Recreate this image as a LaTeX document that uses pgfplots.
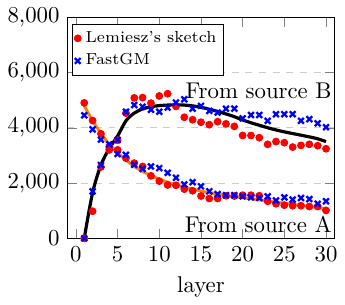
\documentclass[border=0pt]{standalone}
\usepackage{pgfplots}
\pgfplotsset{compat=1.18}
\begin{document}
\begin{tikzpicture}
\begin{axis}[
  scale only axis,
  width=117pt, height=97pt,
  xmin=-1, xmax=31,
  ymin=0, ymax=8000,
  xtick={0,5,...,30},
  ytick={0,2000,4000,6000,8000},
  scaled y ticks=false,
  ymajorgrids,
  major grid style={dashed, gray!40},
  xlabel={layer},
  legend style={at={(0.015,0.97)}, anchor=north west, font=\scriptsize, inner sep=1pt, row sep=-0.5pt},
  legend cell align=left,
]
\addplot[orange, line width=1.3pt, smooth, forget plot] coordinates {
(1,4800)(2,4250)(3,3800)(4,3400)(5,3100)(6,2830)(7,2600)(8,2420)(9,2270)(10,2140)
(11,2030)(12,1930)(13,1850)(14,1780)(15,1710)(16,1650)(17,1600)(18,1550)(19,1510)(20,1470)
(21,1430)(22,1390)(23,1350)(24,1310)(25,1270)(26,1230)(27,1190)(28,1150)(29,1110)(30,1070)};
\addplot[black, line width=1.4pt, smooth, forget plot] coordinates {
(1,0)(2,1650)(3,2650)(4,3250)(5,3700)(6,4250)(7,4530)(8,4680)(9,4760)(10,4800)
(11,4820)(12,4830)(13,4820)(14,4790)(15,4740)(16,4670)(17,4590)(18,4500)(19,4400)(20,4280)
(21,4180)(22,4090)(23,4000)(24,3920)(25,3850)(26,3790)(27,3730)(28,3670)(29,3600)(30,3500)};
\addplot[only marks, mark=*, mark size=1.5pt, red, mark options={draw=red, fill=red}] coordinates {
(1,0)(2,980)(3,2580)(4,3200)(5,3550)(6,4530)(7,5080)(8,5090)(9,4890)(10,5150)
(11,5230)(12,4770)(13,4380)(14,4290)(15,4200)(16,4110)(17,4220)(18,4140)(19,4050)(20,3720)
(21,3720)(22,3640)(23,3400)(24,3500)(25,3460)(26,3300)(27,3360)(28,3400)(29,3350)(30,3240)};
\addlegendentry{Lemiesz's sketch}
\addplot[only marks, mark=x, mark size=1.8pt, blue, mark options={line width=1pt}] coordinates {
(1,0)(2,1700)(3,2650)(4,3300)(5,3560)(6,4580)(7,4820)(8,4760)(9,4650)(10,4580)
(11,4730)(12,4910)(13,5030)(14,4690)(15,4790)(16,4610)(17,4550)(18,4690)(19,4690)(20,4340)
(21,4460)(22,4460)(23,4250)(24,4490)(25,4490)(26,4490)(27,4250)(28,4310)(29,4160)(30,4020)};
\addlegendentry{FastGM}
\addplot[only marks, mark=*, mark size=1.5pt, red, mark options={draw=red, fill=red}, forget plot] coordinates {
(1,4900)(2,4260)(3,3780)(4,3300)(5,3200)(6,2900)(7,2720)(8,2600)(9,2260)(10,2070)
(11,1930)(12,1920)(13,1780)(14,1720)(15,1530)(16,1440)(17,1440)(18,1540)(19,1530)(20,1560)
(21,1560)(22,1540)(23,1340)(24,1250)(25,1200)(26,1180)(27,1180)(28,1150)(29,1150)(30,1010)};
\addplot[only marks, mark=x, mark size=1.8pt, blue, mark options={line width=1pt}, forget plot] coordinates {
(1,4450)(2,3940)(3,3570)(4,3400)(5,3050)(6,3020)(7,2660)(8,2510)(9,2600)(10,2540)
(11,2370)(12,2190)(13,1950)(14,2030)(15,1880)(16,1700)(17,1600)(18,1560)(19,1560)(20,1520)
(21,1480)(22,1460)(23,1520)(24,1370)(25,1480)(26,1400)(27,1460)(28,1420)(29,1250)(30,1340)};
\node[anchor=east, inner sep=1pt] at (axis cs:31,5350) {From source B};
\node[anchor=east, inner sep=1pt] at (axis cs:31,500) {From source A};
\path (rel axis cs:1,0) ++(4pt,0) coordinate (rb);
\path (rb) rectangle ++(0,1pt);
\end{axis}
\end{tikzpicture}
\end{document}
